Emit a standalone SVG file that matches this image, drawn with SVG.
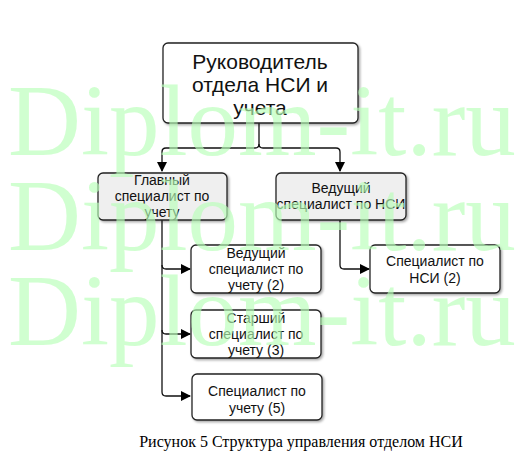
<svg xmlns="http://www.w3.org/2000/svg" width="525" height="460" viewBox="0 0 525 460">
<defs>
<marker id="arr" markerWidth="10" markerHeight="10" refX="9" refY="5" orient="auto" markerUnits="userSpaceOnUse">
<path d="M0,0 L10,5 L0,10 z" fill="#000"/>
</marker>
<filter id="sh" x="-10%" y="-10%" width="130%" height="130%">
<feDropShadow dx="1.5" dy="1.5" stdDeviation="1" flood-color="#000" flood-opacity="0.35"/>
</filter>
<style>
.box{fill:#ffffff;stroke:#222;stroke-width:1.3;filter:url(#sh)}
.grey{fill:#efefef}
.t{font-family:"Liberation Sans",Arial,sans-serif;font-size:14px;fill:#111;text-anchor:middle;dominant-baseline:central}
.big{font-size:21px}
.conn{fill:none;stroke:#111;stroke-width:1.3}
.wm{font-family:"Liberation Serif","Times New Roman",serif;font-size:101px;fill:#b8ffb8;opacity:0.65}
.cap{font-family:"Liberation Serif","Times New Roman",serif;font-size:16px;fill:#000;text-anchor:middle}
</style>
</defs>
<rect width="525" height="460" fill="#ffffff"/>
<g id="connectors">
<path class="conn" d="M259,123 V144 Q259,148 255,148 H166 Q162,148 162,152 V171" marker-end="url(#arr)"/>
<path class="conn" d="M259,144 Q259,148 263,148 H336 Q340,148 340,152 V171" marker-end="url(#arr)"/>
<path class="conn" d="M162,220 V265 Q162,269 166,269 H190" marker-end="url(#arr)"/>
<path class="conn" d="M162,265 V330 Q162,334 166,334 H190" marker-end="url(#arr)"/>
<path class="conn" d="M162,330 V392 Q162,396 166,396 H190" marker-end="url(#arr)"/>
<path class="conn" d="M340,220 V265 Q340,269 344,269 H369" marker-end="url(#arr)"/>
</g>
<g id="n1">
<rect class="box" x="163" y="43" width="195" height="80" rx="5"/>
<text class="t big" x="260" y="61">Руководитель</text>
<text class="t big" x="260" y="84">отдела НСИ и</text>
<text class="t big" x="260" y="107">учета</text>
</g>
<g id="n2">
<rect class="box grey" x="98" y="173" width="129" height="47" rx="5"/>
<text class="t" x="162" y="180">Главный</text>
<text class="t" x="162" y="196">специалист  по</text>
<text class="t" x="162" y="212">учету</text>
</g>
<g id="n3">
<rect class="box grey" x="276" y="173" width="130" height="47" rx="5"/>
<text class="t" x="341" y="188">Ведущий</text>
<text class="t" x="341" y="204">специалист по НСИ</text>
</g>
<g id="n4">
<rect class="box" x="191" y="245" width="130" height="48" rx="5"/>
<text class="t" x="256" y="253">Ведущий</text>
<text class="t" x="256" y="269">специалист по</text>
<text class="t" x="256" y="285">учету (2)</text>
</g>
<g id="n5">
<rect class="box" x="191" y="310" width="130" height="48" rx="5"/>
<text class="t" x="256" y="318">Старший</text>
<text class="t" x="256" y="334">специалист по</text>
<text class="t" x="256" y="350">учету (3)</text>
</g>
<g id="n6">
<rect class="box" x="192" y="374" width="130" height="46" rx="5"/>
<text class="t" x="257" y="391">Специалист по</text>
<text class="t" x="257" y="408">учету (5)</text>
</g>
<g id="n7">
<rect class="box" x="370" y="245" width="130" height="48" rx="5"/>
<text class="t" x="435" y="261">Специалист по</text>
<text class="t" x="435" y="278">НСИ  (2)</text>
</g>
<g id="watermark">
<text class="wm" x="8" y="155">Diplom-it.ru</text>
<text class="wm" x="8" y="250">Diplom-it.ru</text>
<text class="wm" x="8" y="345">Diplom-it.ru</text>
</g>
<text class="cap" x="301" y="447">Рисунок 5 Структура управления отделом НСИ</text>
</svg>
